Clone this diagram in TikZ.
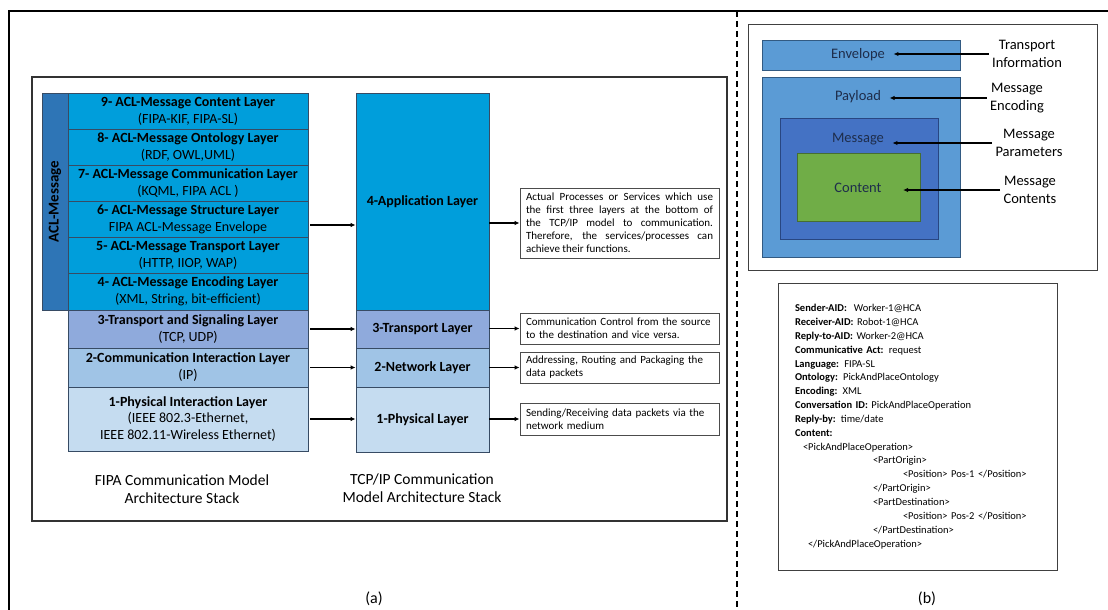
\documentclass[tikz,border=0pt]{standalone}
\usepackage{fontspec}
\setmainfont{Carlito}
\usetikzlibrary{arrows.meta}
\definecolor{aclbar}{RGB}{46,117,182}
\definecolor{acllayer}{RGB}{0,158,219}
\definecolor{translayer}{RGB}{143,170,220}
\definecolor{netlayer}{RGB}{160,196,230}
\definecolor{physlayer}{RGB}{197,220,240}
\definecolor{layerline}{RGB}{55,75,100}
\definecolor{envfill}{RGB}{91,155,213}
\definecolor{envline}{RGB}{50,90,130}
\definecolor{msgfill}{RGB}{68,114,196}
\definecolor{msgline}{RGB}{40,70,130}
\definecolor{cntfill}{RGB}{112,173,71}
\definecolor{cntline}{RGB}{70,110,50}
\definecolor{navytext}{RGB}{30,45,75}
\tikzset{
  layer/.style={draw=layerline,line width=0.8pt,minimum width=240pt,inner sep=0pt,align=center,font=\fontsize{14}{17}\selectfont},
  tcplayer/.style={draw=layerline,line width=0.8pt,minimum width=133pt,inner sep=0pt,font=\fontsize{14}{17}\selectfont\bfseries},
  desc/.style={draw=black!70,line width=0.8pt,text width=187pt,inner xsep=6pt,inner ysep=0pt,align=left,font=\fontsize{11}{13}\selectfont},
  conn/.style={line width=1.2pt,-{Latex[length=5pt,width=4.5pt]}},
  part/.style={line width=0.8pt,inner sep=0pt},
  parttext/.style={text=navytext,font=\fontsize{14.5}{18}\selectfont},
  partlabel/.style={font=\fontsize{14.5}{18}\selectfont,align=center},
  caption/.style={font=\fontsize{15.5}{17.5}\selectfont,align=center}
}
\begin{document}
\begin{tikzpicture}[x=1pt,y=-1pt]
\useasboundingbox (0,0) rectangle (1108,610);
\draw[line width=1.3pt] (1108,11) -- (9,11) -- (9,610);
\draw[line width=1.2pt,dash pattern=on 6pt off 4pt] (737,11) -- (737,610);
\draw[line width=1.5pt,black!80] (32,77) rectangle (727,521);
\node[draw=layerline,fill=aclbar,line width=0.8pt,rotate=90,minimum width=217pt,minimum height=26pt,inner sep=0pt,font=\fontsize{15}{17}\selectfont\bfseries] (acl) at (55,201.5) {ACL-Message};
\node[layer,fill=acllayer,minimum height=36pt] (L9) at (188,111) {\textbf{9- ACL-Message Content Layer}\\(FIPA-KIF, FIPA-SL)};
\node[layer,fill=acllayer,minimum height=36pt] (L8) at (188,147) {\textbf{8- ACL-Message Ontology Layer}\\(RDF, OWL,UML)};
\node[layer,fill=acllayer,minimum height=36pt] (L7) at (188,183) {\textbf{7- ACL-Message Communication Layer}\\(KQML, FIPA ACL )};
\node[layer,fill=acllayer,minimum height=36pt] (L6) at (188,219) {\textbf{6- ACL-Message Structure Layer}\\FIPA ACL-Message Envelope};
\node[layer,fill=acllayer,minimum height=36pt] (L5) at (188,255) {\textbf{5- ACL-Message Transport Layer}\\(HTTP, IIOP, WAP)};
\node[layer,fill=acllayer,minimum height=37pt] (L4) at (188,291.5) {\textbf{4- ACL-Message Encoding Layer}\\(XML, String, bit-efficient)};
\node[layer,fill=translayer,minimum height=38pt] (L3) at (188,329) {\textbf{3-Transport and Signaling Layer}\\(TCP, UDP)};
\node[layer,fill=netlayer,minimum height=39pt] (L2) at (188,367.5) {\textbf{2-Communication Interaction Layer}\\(IP)};
\node[layer,fill=physlayer,minimum height=64pt,font=\fontsize{14}{16.5}\selectfont] (L1) at (188,419) {\textbf{1-Physical Interaction Layer}\\(IEEE 802.3-Ethernet,\\IEEE 802.11-Wireless Ethernet)};
\node[tcplayer,fill=acllayer,minimum height=217pt] (T4) at (422.5,201.5) {4-Application Layer};
\node[tcplayer,fill=translayer,minimum height=38pt] (T3) at (422.5,329) {3-Transport Layer};
\node[tcplayer,fill=netlayer,minimum height=39pt] (T2) at (422.5,367.5) {2-Network Layer};
\node[tcplayer,fill=physlayer,minimum height=65pt] (T1) at (422.5,419.5) {1-Physical Layer};
\node[desc,align=justify,minimum height=70pt] (D4) at (619.5,223) {Actual Processes or Services which use\linebreak the first three layers at the bottom of\linebreak the TCP/IP model to communication.\linebreak Therefore, the services/processes can\linebreak achieve their functions.};
\node[desc,minimum height=31pt] (D3) at (619.5,328.5) {Communication Control from the source\\to the destination and vice versa.};
\node[desc,minimum height=31pt] (D2) at (619.5,367.5) {Addressing, Routing and Packaging the\\data packets};
\node[desc,minimum height=32pt] (D1) at (619.5,419) {Sending/Receiving data packets via the\\network medium};
\draw[conn] ([xshift=2pt,yshift=-6pt]L6.east) -- ([yshift=-6pt]L6.east -| T4.west);
\draw[conn] ([xshift=2pt]L3.east) -- (L3.east -| T3.west);
\draw[conn] ([xshift=2pt]L2.east) -- (L2.east -| T2.west);
\draw[conn] ([xshift=2pt]L1.east) -- (L1.east -| T1.west);
\draw[conn] (D4.west -| T4.east) -- (D4.west);
\draw[conn] (D3.west -| T3.east) -- (D3.west);
\draw[conn] (D2.west -| T2.east) -- (D2.west);
\draw[conn] (D1.west -| T1.east) -- (D1.west);
\node[caption] (fipacap) at (182,489) {FIPA Communication Model\\Architecture Stack};
\node[caption] (tcpcap) at (422,488) {TCP/IP Communication\\Model Architecture Stack};
\node[font=\fontsize{16}{18}\selectfont] (capa) at (374,599) {(a)};
\draw[line width=1pt,black!75] (748,25) rectangle (1097,270);
\node[part,draw=envline,fill=envfill,minimum width=198pt,minimum height=30pt] (env) at (861,55) {};
\node[part,draw=envline,fill=envfill,minimum width=198pt,minimum height=180pt] (pay) at (861,167) {};
\node[part,draw=msgline,fill=msgfill,minimum width=158pt,minimum height=121pt] (msg) at (859,178.5) {};
\node[part,draw=cntline,fill=cntfill,minimum width=123pt,minimum height=68pt] (cnt) at (858.5,187) {};
\node[parttext] (envtxt) at (858,55) {Envelope};
\node[parttext] (paytxt) at (858,97) {Payload};
\node[parttext] (msgtxt) at (858,139) {Message};
\node[parttext] (cnttxt) at (858,188) {Content};
\node[partlabel] (trlab) at (1027,54) {Transport\\Information};
\node[partlabel] (enclab) at (1017,98) {Message\\Encoding};
\node[partlabel] (parlab) at (1029,143) {Message\\Parameters};
\node[partlabel] (cntlab) at (1030,190) {Message\\Contents};
\draw[conn,shorten >=5pt] (trlab.west) -- (trlab.west -| envtxt.east);
\draw[conn,shorten >=5pt] (enclab.west) -- (enclab.west -| paytxt.east);
\draw[conn,shorten >=5pt] (parlab.west) -- (parlab.west -| msgtxt.east);
\draw[conn,shorten >=18pt] (cntlab.west) -- (cntlab.west -| cnttxt.east);
\node[draw=black!75,line width=1pt,minimum width=279pt,minimum height=287pt,text width=245pt,inner xsep=17pt,align=left,font=\fontsize{10.5}{13.85}\selectfont] (msgbox) at (917.5,426.5) {\textbf{Sender-AID:}\ \ Worker-1@HCA\\
\textbf{Receiver-AID:} Robot-1@HCA\\
\textbf{Reply-to-AID:} Worker-2@HCA\\
\textbf{Communicative Act:} request\\
\textbf{Language:} FIPA-SL\\
\textbf{Ontology:} PickAndPlaceOntology\\
\textbf{Encoding:} XML\\
\textbf{Conversation ID:} PickAndPlaceOperation\\
\textbf{Reply-by:} time/date\\
\textbf{Content:}\\
\hspace*{8pt}<PickAndPlaceOperation>\\
\hspace*{78pt}<PartOrigin>\\
\hspace*{108pt}<Position> Pos-1 </Position>\\
\hspace*{78pt}</PartOrigin>\\
\hspace*{78pt}<PartDestination>\\
\hspace*{108pt}<Position> Pos-2 </Position>\\
\hspace*{78pt}</PartDestination>\\
\hspace*{13pt}</PickAndPlaceOperation>};
\node[font=\fontsize{16}{18}\selectfont] (capb) at (927,599) {(b)};
\end{tikzpicture}
\end{document}
